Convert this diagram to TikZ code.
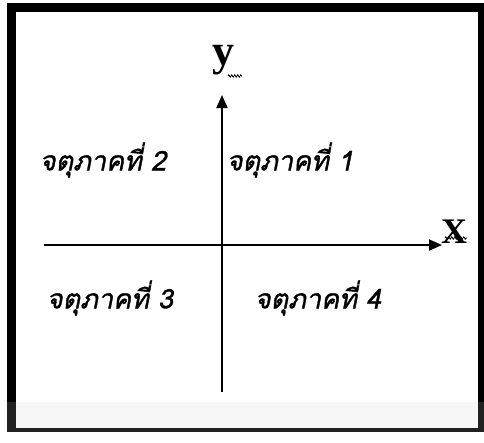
\documentclass[tikz,border=0pt]{standalone}
\usepackage{fontspec}
\newfontfamily\thaifont[Script=Thai,FakeSlant=0.2,FakeBold=1.2]{Loma}
\newfontfamily\timesfont{Liberation Serif}
\usetikzlibrary{arrows.meta,decorations.pathmorphing}
\begin{document}
\begin{tikzpicture}[x=1pt,y=-1pt,
  axis/.style={line width=1.8pt,-{Triangle[length=13pt,width=11pt]}},
  quad/.style={font=\thaifont\fontsize{27}{30}\selectfont,inner sep=0pt},
  lab/.style={font=\timesfont\bfseries\fontsize{36}{36}\selectfont,inner sep=0pt},
  squig/.style={line width=0.8pt,decorate,decoration={zigzag,amplitude=1.2pt,segment length=3pt}}]
\useasboundingbox (0,0) rectangle (484,442);
\fill[white] (0,0) rectangle (484,442);
% frame
\fill[black] (7,3) rectangle (484,402);
\fill[black!87] (7,402) rectangle (484,432);
\fill[white] (16,12) rectangle (478,402);
\fill[black!3] (16,402) rectangle (478,428);
% axes
\coordinate (xs) at (44,245);
\coordinate (xe) at (442,245);
\coordinate (ys) at (222,392);
\coordinate (ye) at (222,95);
\draw[axis] (xs) -- (xe);
\draw[axis] (ys) -- (ye);
\node[lab,anchor=base west] (xl) at (441,243) {X};
\node[lab,anchor=base,font=\timesfont\bfseries\fontsize{44}{44}\selectfont] (yl) at (223,65) {y};
\draw[squig] ([yshift=5pt]xl.base west) ++(4pt,0) -- ++(22pt,0);
\draw[squig] (228,76) -- (242,76);
% quadrant labels
\node[quad] (q2) at (103,160) {จตุภาคที่ 2};
\node[quad] (q1) at (290,160) {จตุภาคที่ 1};
\node[quad] (q3) at (110,298) {จตุภาคที่ 3};
\node[quad] (q4) at (318,298) {จตุภาคที่ 4};
\end{tikzpicture}
\end{document}
